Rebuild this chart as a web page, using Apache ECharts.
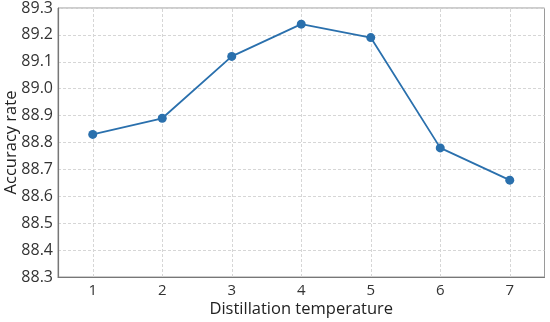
<!DOCTYPE html>
<html><head><meta charset="utf-8">
<script src="https://cdn.jsdelivr.net/npm/echarts@6/dist/echarts.min.js"></script>
<style>html,body{margin:0;padding:0;background:#fff}#c{width:550px;height:322px}</style>
</head><body><div id="c"></div>
<script>
const categories = ['1','2','3','4','5','6','7'];
const accuracy = [88.83, 88.89, 89.12, 89.24, 89.19, 88.78, 88.66];
const yMin = 88.3, yMax = 89.3, yStep = 0.1;
const FONT = '"Open Sans", "Noto Sans", sans-serif';
const chart = echarts.init(document.getElementById('c'));
const gridLine = {color:'#d6d6d6', type:[3,2], width:1};
chart.setOption({
  animation:false,
  grid:{left:58, top:8, right:5.5, bottom:45, show:true, borderColor:'#9a9a9a', borderWidth:1,
    containLabel:false, outerBoundsMode:'none'},
  xAxis:{type:'category', data:categories, boundaryGap:true,
    name:'Distillation temperature', nameLocation:'middle', nameGap:24, nameMoveOverlap:false,
    nameTextStyle:{fontFamily:FONT, fontSize:16.5, color:'#222'},
    axisLine:{lineStyle:{color:'#777', width:1.2}},
    axisTick:{alignWithLabel:true, length:3, lineStyle:{color:'#999'}},
    axisLabel:{fontFamily:FONT, fontSize:15, color:'#333', margin:6},
    splitLine:{show:false}},
  yAxis:{type:'value', min:yMin, max:yMax, interval:yStep,
    name:'Accuracy rate', nameLocation:'middle', nameGap:38, nameMoveOverlap:false,
    nameTextStyle:{fontFamily:FONT, fontSize:16.5, color:'#222'},
    axisLine:{show:true, lineStyle:{color:'#777', width:1.2}},
    axisTick:{show:false},
    axisLabel:{fontFamily:FONT, fontSize:16, color:'#333', margin:5, formatter:v=>v.toFixed(1)},
    splitLine:{show:true, lineStyle:gridLine}},
  series:[{type:'line', data:accuracy, symbol:'circle', symbolSize:9, z:5,
    lineStyle:{color:'#2a70ad', width:1.8}, itemStyle:{color:'#2a70ad'},
    markLine:{silent:true, symbol:'none', label:{show:false}, z:1,
      lineStyle:gridLine, emphasis:{disabled:true},
      data:categories.map(c=>({xAxis:c}))}}]
});
</script></body></html>
